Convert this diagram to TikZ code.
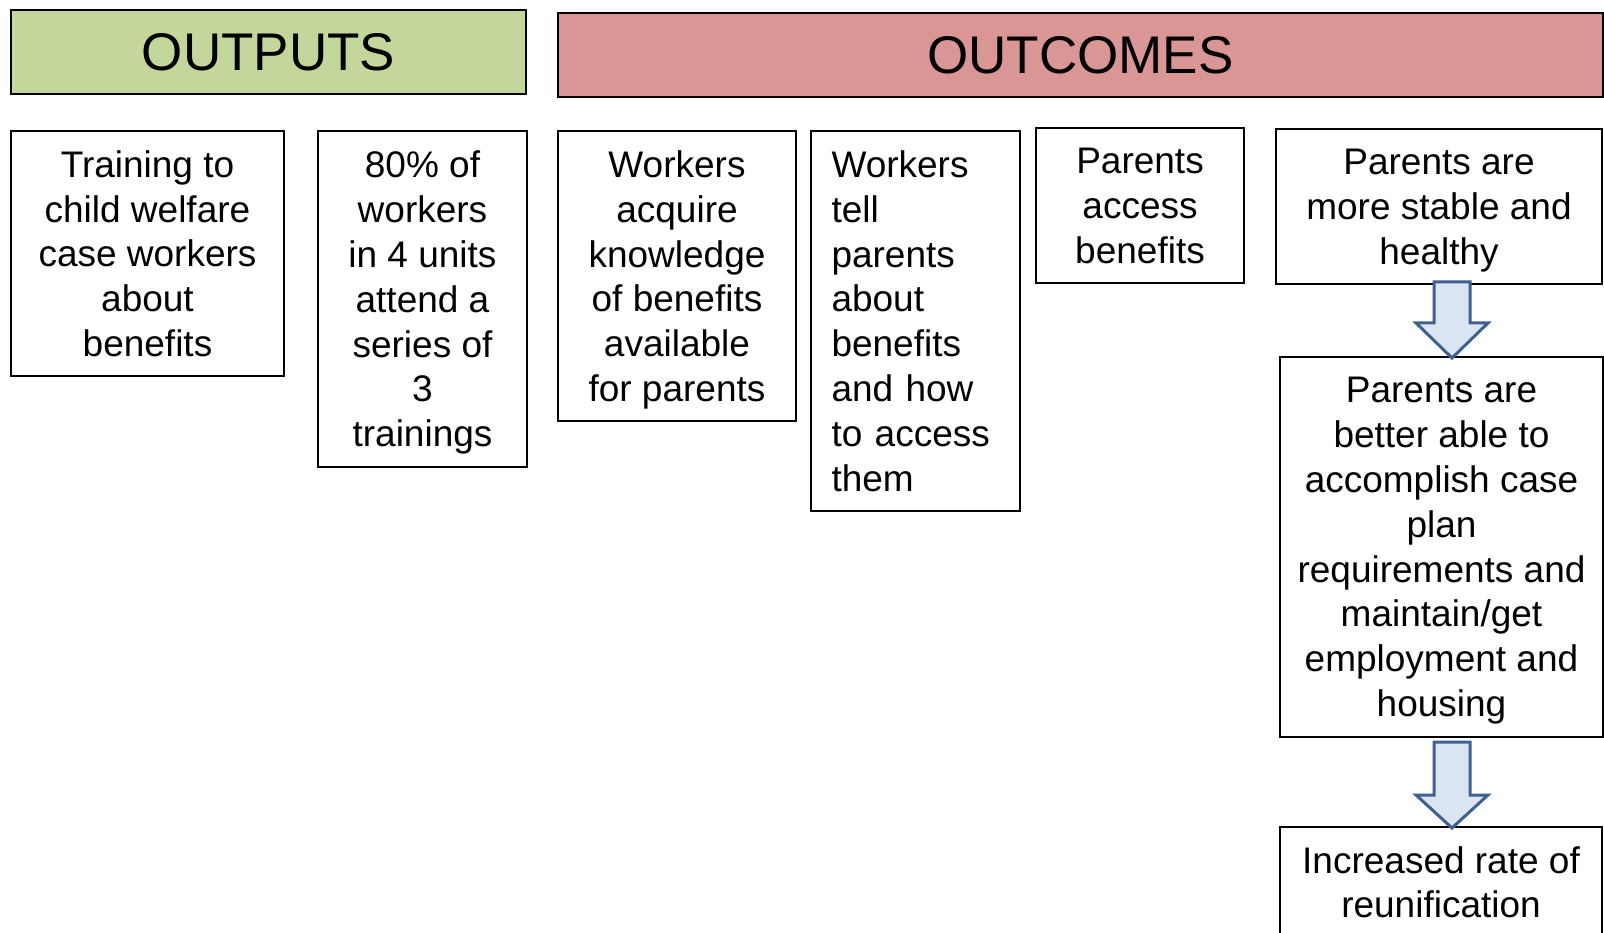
\documentclass[tikz,border=0pt]{standalone}
\usepackage{fontspec}
\setmainfont{Liberation Sans}
\usepackage{tikz}
\usetikzlibrary{positioning,calc}

\definecolor{outgreen}{HTML}{C3D69B}
\definecolor{outred}{HTML}{D99694}
\definecolor{arrowfill}{HTML}{DBE5F1}
\definecolor{arrowline}{HTML}{3E6190}

\tikzset{
  box/.style={draw, line width=2.5pt, align=center, inner sep=0pt, text depth=0pt,
    font=\fontsize{37}{44.8}\selectfont},
  headbox/.style={draw, line width=2.5pt, inner sep=0pt,
    font=\fontsize{53}{60}\selectfont},
  blockarrow/.style={draw=arrowline, fill=arrowfill, line width=3pt, line join=miter}
}

\begin{document}
\begin{tikzpicture}[x=1pt,y=-1pt]
        \useasboundingbox (0,0) rectangle (1604,933);
        \clip (0,0) rectangle (1604,933);

        % headers
        \node[headbox, fill=outgreen, minimum width=515, minimum height=84] (outputs) at (268.5,52) {OUTPUTS};
        \node[headbox, fill=outred, minimum width=1045, minimum height=84] (outcomes) at (1080.5,55) {OUTCOMES};

        % outputs
        \node[box, minimum width=273, minimum height=245] (train) at (147.5,253.5)
            {Training to\\child welfare\\case workers\\about\\benefits};
        \node[box, minimum width=209, minimum height=336] (attend) at (422.5,299)
            {80\% of\\workers\\in 4 units\\attend a\\series of\\3\\trainings};

        % outcomes
        \node[box, align=left, text depth={}, text width=168, minimum width=209, minimum height=380] (tell) at (915.5,321)
            {Workers\\tell\\parents\\about\\benefits\\and how\\to access\\them};
        \node[box, minimum width=238, minimum height=290] (know) at (677,276)
            {Workers\\acquire\\knowledge\\of benefits\\available\\for parents};
        \node[box, minimum width=208, minimum height=155] (access) at (1140,205.5)
            {Parents\\access\\benefits};
        \node[box, minimum width=326, minimum height=155] (stable) at (1439,206.5)
            {Parents are\\more stable and\\healthy};
        \node[box, minimum width=323, minimum height=380] (ableto) at (1441.5,547)
            {Parents are\\better able to\\accomplish case\\plan\\requirements and\\maintain/get\\employment and\\housing};
        \node[box, minimum width=322, minimum height=110] (reunify) at (1441,882)
            {Increased rate of\\reunification};

        % block arrows
        \draw[blockarrow] (1434,282) -- (1470,282) -- (1470,323) -- (1488,323) -- (1452,358)
            -- (1416,323) -- (1434,323) -- cycle;
        \draw[blockarrow] (1434,742) -- (1470,742) -- (1470,795) -- (1488,795) -- (1452,828)
            -- (1416,795) -- (1434,795) -- cycle;
\end{tikzpicture}
\end{document}
